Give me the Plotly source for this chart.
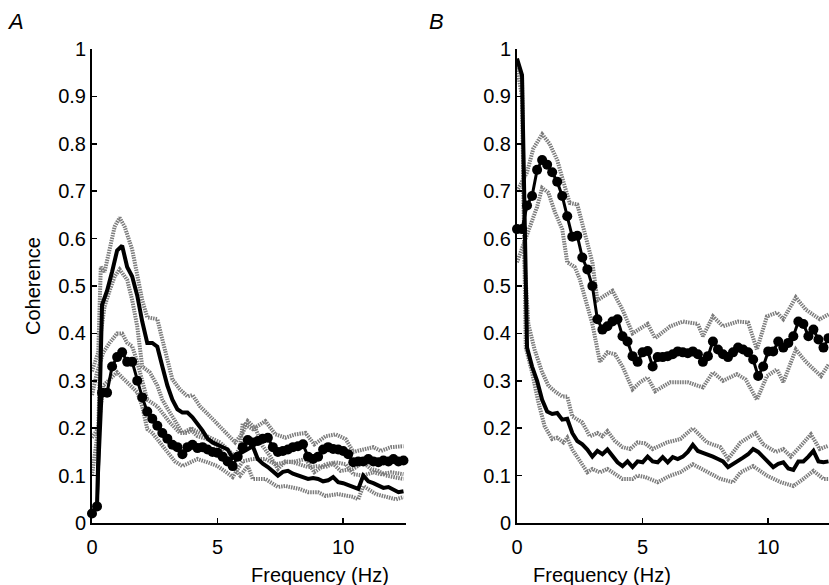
import plotly.graph_objects as go

# ---------------- data ----------------
freq = [round(0.2 * i, 1) for i in range(63)]  # 0 .. 12.4 Hz

# Panel A
a_solid = [0.02, 0.035, 0.46, 0.49, 0.53, 0.575, 0.585, 0.54, 0.52, 0.48, 0.425, 0.38, 0.38, 0.372,
           0.33, 0.29, 0.26, 0.24, 0.233, 0.233, 0.223, 0.21, 0.195, 0.178, 0.17, 0.165, 0.16, 0.155,
           0.137, 0.145, 0.15, 0.155, 0.162, 0.135, 0.125, 0.118, 0.108, 0.1, 0.108, 0.11, 0.104, 0.1,
           0.097, 0.093, 0.095, 0.093, 0.088, 0.09, 0.097, 0.086, 0.084, 0.08, 0.078, 0.072, 0.1,
           0.088, 0.084, 0.08, 0.074, 0.076, 0.07, 0.065, 0.067]
a_dots = [0.02, 0.035, 0.275, 0.275, 0.33, 0.35, 0.36, 0.34, 0.34, 0.30, 0.265, 0.235, 0.22, 0.205,
          0.19, 0.178, 0.165, 0.16, 0.145, 0.16, 0.165, 0.158, 0.16, 0.155, 0.15, 0.148, 0.14, 0.13,
          0.12, 0.14, 0.16, 0.175, 0.17, 0.173, 0.178, 0.18, 0.16, 0.15, 0.152, 0.155, 0.16, 0.162,
          0.166, 0.14, 0.135, 0.14, 0.155, 0.16, 0.156, 0.155, 0.152, 0.145, 0.128, 0.13, 0.13,
          0.135, 0.13, 0.128, 0.132, 0.13, 0.135, 0.13, 0.132]

a_solid_hi_f = [0, 0.25, 0.35, 0.5, 0.7, 0.9, 1.1, 1.3, 1.6, 1.8, 2.0, 2.2, 2.6, 2.8, 3.0, 3.2, 3.5, 3.8,
                4.0, 4.3, 4.7, 5.1, 5.5, 5.7, 6.0, 6.2, 6.5, 6.8, 7.1, 7.4, 7.7, 8.0, 8.25, 8.6, 9.0,
                9.3, 9.6, 9.9, 10.4, 10.8, 11.1, 11.4, 11.7, 12.0, 12.4]
a_solid_hi = [0.32, 0.36, 0.54, 0.53, 0.577, 0.625, 0.644, 0.625, 0.577, 0.52, 0.47, 0.434, 0.43, 0.387,
              0.345, 0.303, 0.282, 0.267, 0.27, 0.246, 0.225, 0.204, 0.183, 0.17, 0.19, 0.215, 0.2,
              0.162, 0.14, 0.114, 0.13, 0.128, 0.124, 0.118, 0.12, 0.118, 0.125, 0.11, 0.114, 0.128,
              0.114, 0.11, 0.1, 0.097, 0.093]
a_solid_lo_f = [0, 0.25, 0.35, 0.5, 0.7, 0.9, 1.1, 1.4, 1.6, 1.8, 2.0, 2.3, 2.6, 2.8, 3.1, 3.4, 3.6, 3.9,
                4.2, 4.6, 5.0, 5.35, 5.6, 5.9, 6.2, 6.4, 6.9, 7.4, 7.7, 8.25, 8.6, 9.0, 9.3, 9.8, 10.4,
                10.6, 10.8, 11.3, 11.7, 12.1, 12.4]
a_solid_lo = [0.1, 0.2, 0.4, 0.457, 0.49, 0.52, 0.535, 0.513, 0.47, 0.415, 0.33, 0.318, 0.29, 0.26,
              0.233, 0.205, 0.19, 0.198, 0.183, 0.177, 0.162, 0.14, 0.12, 0.1, 0.12, 0.093, 0.093,
              0.076, 0.078, 0.072, 0.065, 0.065, 0.057, 0.061, 0.055, 0.05, 0.078, 0.061, 0.055, 0.05,
              0.055]
a_dots_hi_f = [0, 0.2, 0.45, 0.7, 1.0, 1.2, 1.4, 1.6, 1.8, 2.0, 2.2, 2.6, 2.8, 3.1, 3.5, 3.8, 4.0, 4.3,
               4.6, 5.1, 5.5, 5.7, 5.9, 6.0, 6.4, 6.9, 7.3, 7.7, 8.1, 8.5, 8.85, 9.3, 9.7, 10.1, 10.4,
               10.8, 11.2, 11.5, 11.9, 12.4]
a_dots_hi = [0.27, 0.318, 0.36, 0.38, 0.4, 0.4, 0.38, 0.373, 0.34, 0.297, 0.26, 0.246, 0.233, 0.212,
             0.19, 0.19, 0.198, 0.19, 0.183, 0.17, 0.15, 0.14, 0.162, 0.21, 0.198, 0.215, 0.187, 0.18,
             0.187, 0.19, 0.166, 0.183, 0.187, 0.177, 0.15, 0.156, 0.16, 0.152, 0.16, 0.162]
a_dots_lo_f = [0, 0.25, 0.45, 0.7, 1.0, 1.2, 1.5, 1.8, 2.0, 2.2, 2.4, 2.7, 3.0, 3.3, 3.6, 3.9, 4.2, 4.6,
               5.0, 5.35, 5.6, 6.0, 6.4, 6.9, 7.3, 7.7, 8.1, 8.5, 8.85, 9.3, 9.7, 10.1, 10.4, 10.8,
               11.2, 11.5, 11.9, 12.4]
a_dots_lo = [0.18, 0.2, 0.29, 0.303, 0.318, 0.307, 0.29, 0.276, 0.246, 0.198, 0.19, 0.17, 0.15, 0.13,
             0.12, 0.128, 0.135, 0.128, 0.12, 0.107, 0.097, 0.13, 0.135, 0.135, 0.124, 0.128, 0.13,
             0.135, 0.107, 0.124, 0.128, 0.124, 0.103, 0.1, 0.107, 0.103, 0.107, 0.103]

# Panel B
b_solid = [0.98, 0.945, 0.37, 0.33, 0.30, 0.26, 0.235, 0.23, 0.232, 0.218, 0.22, 0.19, 0.173, 0.166,
           0.155, 0.14, 0.152, 0.145, 0.155, 0.14, 0.128, 0.12, 0.13, 0.118, 0.13, 0.128, 0.14, 0.13,
           0.128, 0.139, 0.128, 0.139, 0.135, 0.14, 0.15, 0.165, 0.152, 0.148, 0.145, 0.14, 0.135,
           0.13, 0.118, 0.124, 0.13, 0.138, 0.145, 0.156, 0.15, 0.14, 0.128, 0.118, 0.125, 0.128,
           0.115, 0.112, 0.13, 0.13, 0.14, 0.152, 0.13, 0.128, 0.13]
b_dots = [0.62, 0.62, 0.67, 0.69, 0.745, 0.766, 0.756, 0.74, 0.72, 0.69, 0.647, 0.604, 0.606, 0.56,
          0.535, 0.50, 0.43, 0.408, 0.415, 0.425, 0.43, 0.394, 0.383, 0.352, 0.34, 0.36, 0.363, 0.33,
          0.35, 0.35, 0.352, 0.356, 0.362, 0.36, 0.358, 0.362, 0.356, 0.34, 0.352, 0.383, 0.366,
          0.356, 0.35, 0.36, 0.37, 0.366, 0.36, 0.345, 0.31, 0.33, 0.362, 0.362, 0.383, 0.37, 0.38,
          0.394, 0.425, 0.42, 0.394, 0.408, 0.387, 0.37, 0.39]

b_solid_hi_f = [0, 0.2, 0.3, 0.45, 0.7, 1.0, 1.25, 1.5, 1.8, 2.0, 2.2, 2.6, 2.9, 3.2, 3.4, 3.6, 3.9, 4.2,
                4.5, 4.8, 5.1, 5.4, 5.97, 6.5, 7.0, 7.56, 8.1, 8.4, 8.9, 9.5, 9.8, 10.3, 10.6, 10.9,
                11.3, 11.7, 12.05, 12.4]
b_solid_hi = [0.975, 0.94, 0.555, 0.42, 0.366, 0.318, 0.29, 0.278, 0.267, 0.267, 0.225, 0.212, 0.183,
              0.19, 0.183, 0.194, 0.173, 0.16, 0.156, 0.17, 0.168, 0.156, 0.17, 0.177, 0.2, 0.17, 0.16,
              0.135, 0.17, 0.19, 0.166, 0.15, 0.156, 0.14, 0.163, 0.187, 0.156, 0.163]
b_solid_lo_f = [0, 0.2, 0.35, 0.6, 0.85, 1.1, 1.4, 1.6, 1.85, 2.0, 2.2, 2.4, 2.8, 3.0, 3.3, 3.6, 3.9,
                4.2, 4.6, 4.8, 5.1, 5.6, 6.1, 6.5, 7.0, 7.5, 8.1, 8.6, 8.9, 9.4, 9.95, 10.5, 11.0, 11.4,
                11.8, 12.2, 12.4]
b_solid_lo = [0.96, 0.9, 0.37, 0.318, 0.255, 0.204, 0.177, 0.18, 0.17, 0.18, 0.155, 0.139, 0.107,
              0.114, 0.107, 0.114, 0.103, 0.093, 0.093, 0.1, 0.097, 0.086, 0.1, 0.107, 0.124, 0.11,
              0.093, 0.086, 0.107, 0.12, 0.1, 0.086, 0.078, 0.093, 0.11, 0.093, 0.093]
b_dots_hi_f = [0, 0.4, 0.65, 1.0, 1.3, 1.6, 1.9, 2.1, 2.4, 2.65, 3.0, 3.2, 3.5, 3.8, 4.2, 4.6, 4.9, 5.2,
               5.5, 6.1, 6.6, 7.2, 7.4, 7.8, 8.2, 8.8, 9.2, 9.55, 9.95, 10.35, 10.6, 11.1, 11.5, 12.05,
               12.4]
b_dots_hi = [0.70, 0.74, 0.79, 0.82, 0.80, 0.766, 0.71, 0.675, 0.672, 0.62, 0.55, 0.47, 0.48, 0.49,
             0.45, 0.40, 0.41, 0.42, 0.39, 0.415, 0.425, 0.42, 0.394, 0.436, 0.415, 0.425, 0.423,
             0.366, 0.436, 0.444, 0.43, 0.476, 0.45, 0.43, 0.44]
b_dots_lo_f = [0, 0.5, 0.8, 1.0, 1.25, 1.5, 1.8, 2.0, 2.3, 2.5, 3.0, 3.3, 3.6, 3.9, 4.2, 4.6, 4.9, 5.2,
               5.5, 6.1, 6.8, 7.4, 7.8, 8.2, 8.75, 9.1, 9.55, 9.95, 10.35, 10.6, 11.1, 11.5, 12.1, 12.4]
b_dots_lo = [0.55, 0.62, 0.667, 0.707, 0.697, 0.657, 0.62, 0.55, 0.54, 0.514, 0.42, 0.34, 0.36, 0.356,
             0.33, 0.282, 0.297, 0.307, 0.278, 0.297, 0.297, 0.286, 0.318, 0.3, 0.314, 0.303, 0.26,
             0.31, 0.324, 0.297, 0.366, 0.34, 0.31, 0.334]

y_ticks = [0, 0.1, 0.2, 0.3, 0.4, 0.5, 0.6, 0.7, 0.8, 0.9, 1]
x_ticks = [0, 5, 10]

# ---------------- figure ----------------
FONT = "Liberation Sans, Arial, sans-serif"
band_style = dict(color="#7c7c7c", width=4, dash="1.5px,1px")

W, H = 829, 585


def px(x):
    return x / W


def py(y):
    return (H - y) / H


fig = go.Figure()


def add_panel(xa, ya, solid, dots, bands):
    for bf, bv in bands:
        fig.add_trace(go.Scatter(x=bf, y=bv, mode="lines", line=band_style,
                                 xaxis=xa, yaxis=ya, showlegend=False, cliponaxis=False))
    fig.add_trace(go.Scatter(x=freq, y=solid, mode="lines",
                             line=dict(color="black", width=4),
                             xaxis=xa, yaxis=ya, showlegend=False, cliponaxis=False))
    fig.add_trace(go.Scatter(x=freq, y=dots, mode="lines+markers",
                             line=dict(color="black", width=3),
                             marker=dict(color="black", size=10),
                             xaxis=xa, yaxis=ya, showlegend=False, cliponaxis=False))


add_panel("x", "y", a_solid, a_dots,
          [(a_solid_hi_f, a_solid_hi), (a_solid_lo_f, a_solid_lo),
           (a_dots_hi_f, a_dots_hi), (a_dots_lo_f, a_dots_lo)])
add_panel("x2", "y2", b_solid, b_dots,
          [(b_solid_hi_f, b_solid_hi), (b_solid_lo_f, b_solid_lo),
           (b_dots_hi_f, b_dots_hi), (b_dots_lo_f, b_dots_lo)])

y_dom = [py(523), py(49)]

axis_common = dict(showgrid=False, zeroline=False, showline=True, linecolor="black", linewidth=2,
                   ticks="inside", ticklen=5, tickwidth=1.5, tickcolor="black", automargin=False,
                   tickfont=dict(family=FONT, size=20, color="black"))

fig.update_layout(
    width=W, height=H, margin=dict(l=0, r=0, t=0, b=0, autoexpand=False),
    paper_bgcolor="white", plot_bgcolor="white", hovermode=False,
    xaxis=dict(domain=[px(92), px(406)], range=[0, 12.5], tickvals=x_ticks, anchor="y",
               ticklabelstandoff=5, **axis_common),
    yaxis=dict(domain=y_dom, range=[0, 1], tickvals=y_ticks, anchor="x",
               ticklabelstandoff=0, **axis_common),
    xaxis2=dict(domain=[px(517), 1.0], range=[0, 12.42], tickvals=x_ticks, anchor="y2",
                ticklabelstandoff=5, **axis_common),
    yaxis2=dict(domain=y_dom, range=[0, 1], tickvals=y_ticks, anchor="x2",
                ticklabelstandoff=0, **axis_common),
    annotations=[
        dict(text="Frequency (Hz)", x=px((92 + 406) / 2), y=py(575), xref="paper", yref="paper",
             showarrow=False, font=dict(family=FONT, size=20, color="black"), yanchor="middle"),
        dict(text="Frequency (Hz)", x=px((517 + 829) / 2), y=py(575), xref="paper", yref="paper",
             showarrow=False, font=dict(family=FONT, size=20, color="black"), yanchor="middle"),
        dict(text="Coherence", x=px(33), y=py(286), xref="paper", yref="paper", textangle=-90,
             showarrow=False, font=dict(family=FONT, size=20, color="black"),
             xanchor="center", yanchor="middle"),
        dict(text="<i>A</i>", x=px(16), y=py(22), xref="paper", yref="paper",
             showarrow=False, font=dict(family=FONT, size=22, color="black"),
             xanchor="center", yanchor="middle"),
        dict(text="<i>B</i>", x=px(436), y=py(22), xref="paper", yref="paper",
             showarrow=False, font=dict(family=FONT, size=22, color="black"),
             xanchor="center", yanchor="middle"),
    ],
)

# remove the page's default body margin and scrollbars so the figure fills the window
fig.write_html("out.html",
               config={"displayModeBar": False, "staticPlot": True},
               post_script="document.body.style.margin='0';"
                           "document.documentElement.style.overflow='hidden';"
                           "document.body.style.overflow='hidden';")
